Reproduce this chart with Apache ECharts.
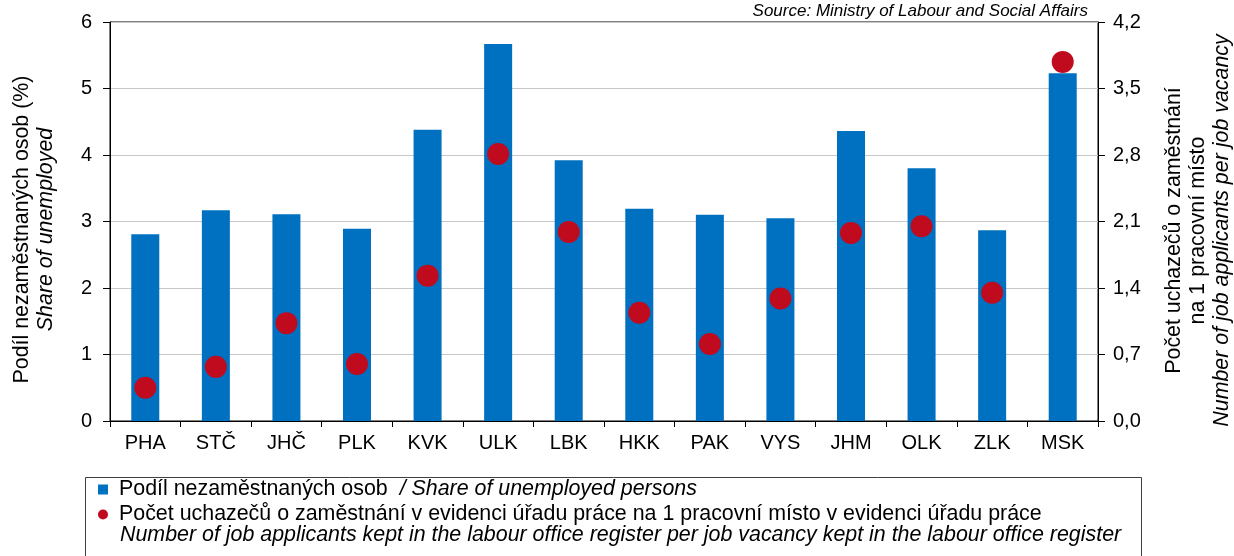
<!DOCTYPE html>
<html>
<head>
<meta charset="utf-8">
<script src="https://cdn.jsdelivr.net/npm/echarts@6/dist/echarts.min.js"></script>
<style>
html,body{margin:0;padding:0;background:#fff;}
#chart{width:1234px;height:556px;}
</style>
</head>
<body>
<div id="chart"></div>
<script>
const categories = ['PHA','STČ','JHČ','PLK','KVK','ULK','LBK','HKK','PAK','VYS','JHM','OLK','ZLK','MSK'];
const unemployedShare = [2.81, 3.17, 3.11, 2.89, 4.38, 5.67, 3.92, 3.19, 3.10, 3.05, 4.36, 3.80, 2.87, 5.23];
const applicantsPerVacancy = [0.35, 0.57, 1.03, 0.60, 1.53, 2.81, 1.99, 1.14, 0.81, 1.29, 1.98, 2.05, 1.35, 3.78];
const leftTicks = {min: 0, max: 6, interval: 1};
const rightTicks = {min: 0, max: 4.2, interval: 0.7};

const seriesNames = ['Podíl nezaměstnaných osob', 'Počet uchazečů o zaměstnání v evidenci úřadu práce na 1 pracovní místo v evidenci úřadu práce'];
const seriesNamesEn = ['/ Share of unemployed persons', 'Number of job applicants kept in the labour office register per job vacancy kept in the labour office register'];

const FONT = '"Liberation Sans", Arial, sans-serif';
const LF = 21.4;
const chart = echarts.init(document.getElementById('chart'), null, {renderer: 'canvas'});

chart.setOption({
  animation: false,
  textStyle: {fontFamily: FONT, color: '#000'},
  title: {
    text: 'Source: Ministry of Labour and Social Affairs',
    right: 146, top: 0, padding: [3, 0, 0, 0],
    textStyle: {fontFamily: FONT, fontStyle: 'italic', fontWeight: 'normal', fontSize: 17, color: '#000'}
  },
  grid: {left: 110, right: 136, top: 22, bottom: 135, show: true, borderColor: '#000', borderWidth: 1, outerBoundsMode: 'none', containLabel: false},
  legend: {
    orient: 'vertical', left: 93, top: 474,
    itemWidth: 10, itemHeight: 10, itemGap: 4,
    data: [{name: seriesNames[0], icon: 'rect'}, {name: seriesNames[1], icon: 'circle'}],
    formatter: function (name) {
      if (name === seriesNames[0]) return '{n|' + name + '}  {i|' + seriesNamesEn[0] + '}';
      return '{n|' + name + '}';
    },
    textStyle: {
      fontFamily: FONT, fontSize: LF, color: '#000', padding: [0, 0, 0, 6],
      rich: {
        n: {fontFamily: FONT, fontSize: LF, color: '#000'},
        i: {fontFamily: FONT, fontSize: LF, fontStyle: 'italic', color: '#000'}
      }
    },
    selectedMode: false
  },
  graphic: [
    {type: 'rect', left: 83, top: 475, shape: {width: 1056, height: 100}, style: {fill: 'none', stroke: '#404040', lineWidth: 1}, silent: true},
    {type: 'text', left: 120, top: 525, style: {text: seriesNamesEn[1], font: 'italic ' + LF + 'px ' + FONT, fill: '#000'}}
  ],
  xAxis: {
    type: 'category', data: categories,
    axisLine: {show: true, lineStyle: {color: '#000', width: 1}},
    axisTick: {show: true, interval: 0, length: 6, lineStyle: {color: '#000'}},
    axisLabel: {fontSize: 20, color: '#000', margin: 12, interval: 0, fontFamily: FONT}
  },
  yAxis: [
    {
      type: 'value', min: leftTicks.min, max: leftTicks.max, interval: leftTicks.interval,
      name: '{a|Podíl nezaměstnaných osob (%)}\n{b|Share of unemployed}',
      nameLocation: 'middle', nameRotate: 90, nameGap: 52,
      nameTextStyle: {
        align: 'center', padding: [0, 16, 0, 0],
        rich: {
          a: {fontFamily: FONT, fontSize: LF, color: '#000', lineHeight: 24, align: 'center'},
          b: {fontFamily: FONT, fontSize: LF, color: '#000', fontStyle: 'italic', lineHeight: 24, align: 'center'}
        }
      },
      axisLine: {show: true, lineStyle: {color: '#000', width: 1}},
      axisTick: {show: true, length: 7, lineStyle: {color: '#000'}},
      axisLabel: {fontSize: 20, color: '#000', margin: 18, fontFamily: FONT},
      splitLine: {show: true, lineStyle: {color: '#c8c8c8', width: 1}}
    },
    {
      type: 'value', position: 'right', min: rightTicks.min, max: rightTicks.max, interval: rightTicks.interval,
      name: '{a|Počet uchazečů o zaměstnání}\n{a|na 1 pracovní místo}\n{b|Number of job applicants per job vacancy}',
      nameLocation: 'middle', nameRotate: 90, nameGap: 64,
      nameTextStyle: {
        align: 'center', padding: [0, 18, 0, 0],
        rich: {
          a: {fontFamily: FONT, fontSize: LF, color: '#000', lineHeight: 24, align: 'center'},
          b: {fontFamily: FONT, fontSize: LF, color: '#000', fontStyle: 'italic', lineHeight: 24, align: 'center'}
        }
      },
      axisLine: {show: true, lineStyle: {color: '#000', width: 1}},
      axisTick: {show: true, length: 7, lineStyle: {color: '#000'}},
      axisLabel: {fontSize: 20, color: '#000', margin: 15, fontFamily: FONT,
        formatter: function (v) { return v.toFixed(1).replace('.', ','); }},
      splitLine: {show: false}
    }
  ],
  series: [
    {
      name: seriesNames[0], type: 'bar', yAxisIndex: 0, data: unemployedShare,
      barWidth: 28, itemStyle: {color: '#0070C0'}
    },
    {
      name: seriesNames[1], type: 'scatter', yAxisIndex: 1, data: applicantsPerVacancy,
      symbol: 'circle', symbolSize: 22, itemStyle: {color: '#C00A1E', opacity: 1}
    }
  ]
});
</script>
</body>
</html>
